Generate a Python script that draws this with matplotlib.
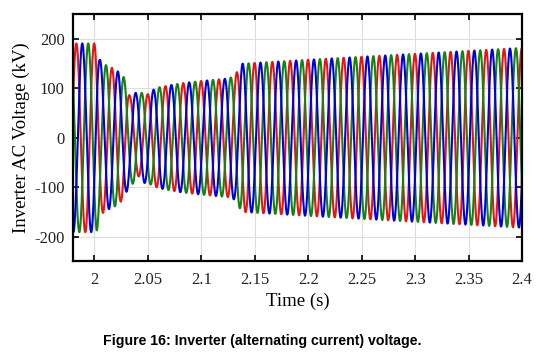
import numpy as np
import matplotlib.pyplot as plt

plt.rcParams["axes.unicode_minus"] = False

# 60 Hz three-phase waveform, envelope
freq = 60.0
t_peak_red = 1.9831          # time of first red crest
env_t = [1.98, 2.002, 2.005, 2.01, 2.02, 2.027, 2.033, 2.04, 2.05, 2.06,
         2.08, 2.10, 2.125, 2.131, 2.138, 2.20, 2.30, 2.40]
env_kv = [191, 191, 158, 148, 138, 125, 95, 90, 92, 102,
          110, 115, 120, 125, 150, 158, 170, 182]
# extra dip of the red phase during the fault transient
red_dip_t = [1.98, 2.028, 2.034, 2.045, 2.052, 2.4]
red_dip_kv = [0, 0, -12, -12, 0, 0]

phases = {"red": 0.0, "blue": -2 * np.pi / 3, "green": -4 * np.pi / 3}
colors = {"red": "#e61414", "green": "#148214", "blue": "#0000dc"}

t = np.arange(1.98, 2.4, 1e-5)
amp = np.interp(t, env_t, env_kv)
arg = 2 * np.pi * freq * (t - t_peak_red)

fig = plt.figure(figsize=(5.49, 3.57), dpi=100)
ax = fig.add_axes([0.133, 0.268, 0.818, 0.692])

for name in ["red", "green", "blue"]:
    a = amp.copy()
    if name == "red":
        a = a + np.interp(t, red_dip_t, red_dip_kv)
    ax.plot(t, a * np.cos(arg + phases[name]), color=colors[name], lw=1.5)

ax.set_xlim(1.98, 2.4)
ax.set_ylim(-250, 250)
ax.set_xticks([2, 2.05, 2.1, 2.15, 2.2, 2.25, 2.3, 2.35, 2.4])
ax.set_xticklabels(["2", "2.05", "2.1", "2.15", "2.2", "2.25", "2.3", "2.35", "2.4"])
ax.set_yticks([-200, -100, 0, 100, 200])
ax.grid(True, color="#dddddd", lw=0.8)
ax.tick_params(direction="in", top=True, right=True, length=4, width=1.2,
               labelsize=12, pad=6)
ax.tick_params(axis="x", pad=8)
for lab in ax.get_xticklabels() + ax.get_yticklabels():
    lab.set_fontfamily("Liberation Serif")
    lab.set_color("#222222")
for sp in ax.spines.values():
    sp.set_linewidth(1.6)

ax.set_xlabel("Time (s)", fontfamily="Liberation Serif", fontsize=13.5, labelpad=3)
ax.set_ylabel("Inverter AC Voltage (kV)", fontfamily="Liberation Serif", fontsize=13.5,
              labelpad=3)

fig.text(0.478, 0.045, "Figure 16: Inverter (alternating current) voltage.",
         ha="center", va="center", fontfamily="Liberation Sans",
         fontweight="bold", fontsize=10.2)

fig.savefig("out.png", dpi=100)
